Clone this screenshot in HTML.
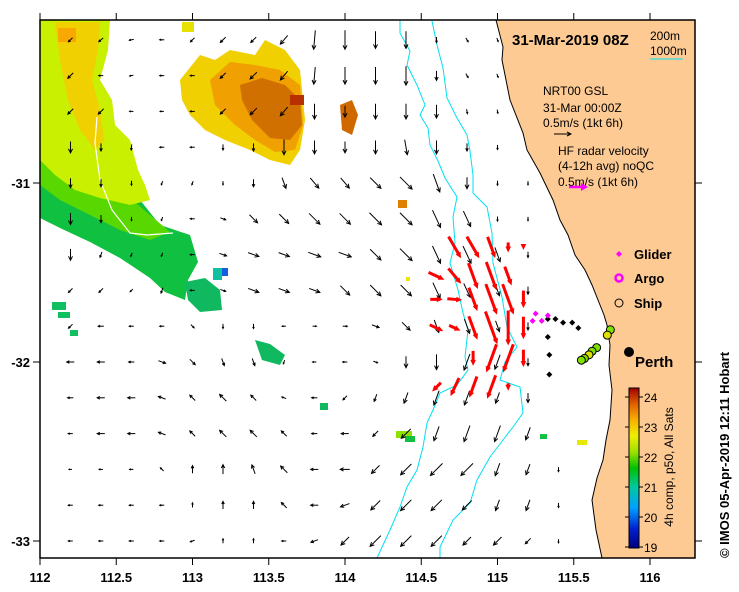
<!DOCTYPE html>
<html><head><meta charset="utf-8">
<style>
body{margin:0;background:#fff;}
svg{display:block;font-family:"Liberation Sans",Arial,sans-serif;}
.tl{font-weight:bold;font-size:13px;}
.sm{font-size:12px;}
</style></head>
<body>
<svg id="map" width="739" height="592" viewBox="0 0 739 592" xmlns="http://www.w3.org/2000/svg">
<defs>
<linearGradient id="cbar" x1="0" y1="1" x2="0" y2="0">
<stop offset="0" stop-color="#000080"/><stop offset="0.12" stop-color="#0020d0"/>
<stop offset="0.25" stop-color="#00a0ff"/><stop offset="0.38" stop-color="#00c8a0"/>
<stop offset="0.5" stop-color="#00c000"/><stop offset="0.6" stop-color="#a0e000"/>
<stop offset="0.7" stop-color="#f0f000"/><stop offset="0.8" stop-color="#f8b000"/>
<stop offset="0.9" stop-color="#e06000"/><stop offset="1" stop-color="#a00000"/>
</linearGradient>
<clipPath id="plotclip"><rect x="40" y="20" width="655" height="538"/></clipPath>
</defs>
<g clip-path="url(#plotclip)">
<g>
<polygon fill="#10c040" points="40,150 60,175 100,200 140,200 160,225 190,235 198,262 188,280 185,300 165,292 150,278 120,258 90,242 60,228 40,218"/>
<polygon fill="#58d800" points="40,130 60,160 95,190 130,198 150,215 170,232 150,240 120,230 90,215 60,200 40,185"/>
<polygon fill="#c8f000" points="40,20 110,20 108,50 100,80 112,100 115,125 130,140 138,170 145,185 150,200 130,205 100,198 75,190 55,175 40,160"/>
<polygon fill="#f0d000" points="55,22 100,22 98,50 92,80 100,110 104,140 95,150 80,130 68,100 60,60"/>
<rect x="58" y="28" width="18" height="14" fill="#f8a800"/>
<rect x="182" y="22" width="12" height="10" fill="#e8e000"/>
<polygon fill="#f0d000" points="180,80 200,55 215,60 230,50 255,55 265,40 285,50 300,70 305,120 300,150 290,165 270,160 250,150 225,140 205,130 190,115 182,100"/>
<polygon fill="#f0a000" points="210,80 230,62 255,65 280,70 300,85 303,125 295,150 275,152 255,140 235,125 215,105"/>
<polygon fill="#d07000" points="240,85 262,78 285,85 300,100 302,125 290,140 270,138 252,120 242,100"/>
<rect x="290" y="95" width="14" height="10" fill="#b83000"/>
<polygon fill="#d06800" points="340,105 352,100 358,115 352,135 342,130"/>
<rect x="398" y="200" width="9" height="8" fill="#e08000"/>
<polygon fill="#10b860" points="185,282 205,278 220,290 222,310 200,312 188,300"/>
<rect x="222" y="268" width="6" height="8" fill="#1060e0"/>
<rect x="213" y="268" width="9" height="12" fill="#10c0a0"/>
<polygon fill="#10b860" points="255,340 270,344 285,355 280,365 262,360"/>
<rect x="52" y="302" width="14" height="8" fill="#10c060"/>
<rect x="58" y="312" width="12" height="6" fill="#10c060"/>
<rect x="70" y="330" width="8" height="6" fill="#10c060"/>
<rect x="320" y="403" width="8" height="7" fill="#10b860"/>
<rect x="396" y="431" width="16" height="7" fill="#90e000"/>
<rect x="405" y="436" width="10" height="6" fill="#10c040"/>
<rect x="406" y="277" width="4" height="4" fill="#e8e800"/>
<rect x="540" y="434" width="7" height="5" fill="#10c040"/>
<rect x="577" y="440" width="10" height="5" fill="#e8e800"/>
</g>
<polyline fill="none" stroke="#fff" stroke-width="1.2" points="97,117 95,143 100,180 112,210 130,233 147,235 173,233"/>
<polygon fill="#fdca94" stroke="#000" stroke-width="1" points="496,20 503,47 502,60 510,100 523,133 527,150 540,173 553,200 560,220 568,235 575,255 585,270 592,285 598,300 604,315 607,325 610,345 609,365 612,390 610,420 606,440 603,460 597,478 592,500 596,530 602,558 700,558 700,20"/>
<polyline fill="none" stroke="#00e0f0" stroke-width="1" points="400,21 400,33 410,51 407,65 417,85 425,105 420,115 428,128 430,145 438,161 445,178 457,197 453,217 455,243 450,263 458,290 463,313 468,330 465,357 468,370 457,385 440,393 433,410 427,423 423,447 417,470 407,487 400,507 390,530 377,558"/>
<polyline fill="none" stroke="#00e0f0" stroke-width="1" points="432,21 437,45 443,68 447,98 457,118 467,135 470,151 473,175 473,193 487,207 492,233 493,263 502,297 507,327 517,347 505,362 500,380 520,387 523,413 513,427 503,440 490,457 477,480 470,503 453,520 440,547 440,558"/>
<g id="arrows"></g>
<g id="radar"></g>
<g id="tracks"></g>
</g>
<rect x="40" y="20" width="655" height="538" fill="none" stroke="#000" stroke-width="1.5"/>
<g id="axes"></g>
<text x="512" y="45" font-size="15" font-weight="bold">31-Mar-2019 08Z</text>
<text x="650" y="40" class="sm">200m</text>
<text x="650" y="55" class="sm">1000m</text>
<line x1="650" y1="59" x2="683" y2="59" stroke="#00e0f0" stroke-width="1"/>
<text class="sm" x="543" y="95">NRT00 GSL</text>
<text class="sm" x="543" y="112">31-Mar 00:00Z</text>
<text class="sm" x="543" y="127">0.5m/s (1kt 6h)</text>
<g stroke="#000" stroke-width="1"><line x1="554" y1="134" x2="571" y2="134"/><polyline fill="none" points="567,132 571,134 567,136"/></g>
<text class="sm" x="558" y="155">HF radar velocity</text>
<text class="sm" x="558" y="170">(4-12h avg) noQC</text>
<text class="sm" x="558" y="186">0.5m/s (1kt 6h)</text>
<g><line x1="569" y1="187" x2="582" y2="187" stroke="#ff00ff" stroke-width="2.5"/><polygon fill="#ff00ff" points="581,183 588,187 581,191"/></g>
<g><polygon fill="#ff00ff" points="619,251 622,254 619,257 616,254"/><text x="634" y="259" class="tl">Glider</text></g>
<g><circle cx="619" cy="278" r="3.5" fill="none" stroke="#ff00ff" stroke-width="2.5"/><text x="634" y="283" class="tl">Argo</text></g>
<g><circle cx="619" cy="303" r="4" fill="none" stroke="#000" stroke-width="1"/><text x="634" y="308" class="tl">Ship</text></g>
<circle cx="629" cy="352" r="5" fill="#000"/>
<text x="635" y="367" font-size="15" font-weight="bold">Perth</text>
<rect x="629" y="388" width="10" height="160" fill="url(#cbar)" stroke="#000" stroke-width="1"/>
<g id="cbticks"></g>
<text transform="translate(673,467) rotate(-90)" text-anchor="middle" font-size="12">4h comp, p50, All Sats</text>
<text transform="translate(729,455) rotate(-90)" text-anchor="middle" font-size="13" font-weight="bold">© IMOS 05-Apr-2019 12:11 Hobart</text>
</svg>
<script>
const arrowLons=[112.2,112.4,112.6,112.8,113.0,113.2,113.4,113.6,113.8,114.0,114.2,114.4,114.6,114.8,115.0,115.2,115.4];
const arrowLats=[-30.2,-30.4,-30.6,-30.8,-31.0,-31.2,-31.4,-31.6,-31.8,-32.0,-32.2,-32.4,-32.6,-32.8,-33.0];
const arrowDir=[
[225,230,260,270,225,225,225,220,185,180,180,180,180,150,160,null,null],
[225,270,260,270,270,225,225,220,185,180,180,180,180,150,160,null,null],
[225,225,270,270,270,225,225,220,180,180,180,180,180,170,170,null,null],
[180,180,185,270,270,180,180,180,180,180,180,170,180,180,180,null,null],
[180,180,180,200,200,180,180,160,140,140,135,135,160,180,180,180,null],
[180,180,180,200,270,110,135,135,135,135,135,135,155,155,180,180,null],
[180,200,200,200,270,110,110,110,110,110,135,135,155,155,160,180,null],
[225,225,225,200,270,110,110,110,110,135,135,135,155,155,160,180,null],
[225,270,270,270,135,180,180,270,90,90,110,135,160,160,160,180,null],
[270,270,270,110,135,160,160,200,270,270,110,180,180,200,200,180,null],
[270,270,270,290,315,315,315,290,270,225,200,200,200,200,200,180,null],
[270,270,270,290,315,315,315,315,270,270,225,225,200,200,200,200,null],
[270,270,270,315,0,0,340,315,270,270,225,225,225,225,200,200,180],
[270,270,270,270,0,0,0,315,270,250,225,225,225,225,200,200,180],
[270,270,270,270,250,0,0,270,250,225,225,225,225,225,225,225,180]];
const arrowSpd=[
[0.15,0.15,0.12,0.12,0.15,0.2,0.2,0.3,0.5,0.5,0.45,0.45,0.15,0.12,0.1,null,null],
[0.2,0.12,0.1,0.12,0.12,0.2,0.25,0.3,0.45,0.45,0.45,0.5,0.25,0.12,0.1,null,null],
[0.2,0.2,0.1,0.1,0.12,0.2,0.25,0.3,0.4,0.3,0.4,0.4,0.35,0.12,0.1,null,null],
[0.3,0.2,0.15,0.12,0.12,0.15,0.2,0.4,0.35,0.3,0.35,0.4,0.35,0.2,0.12,null,null],
[0.25,0.2,0.12,0.1,0.1,0.1,0.2,0.3,0.35,0.35,0.4,0.45,0.5,0.3,0.12,0.1,null],
[0.3,0.2,0.1,0.1,0.12,0.15,0.3,0.35,0.4,0.4,0.45,0.45,0.5,0.45,0.12,0.1,null],
[0.3,0.15,0.1,0.1,0.12,0.2,0.3,0.3,0.35,0.35,0.4,0.45,0.5,0.5,0.4,0.15,null],
[0.15,0.15,0.1,0.15,0.12,0.15,0.3,0.3,0.3,0.35,0.4,0.4,0.45,0.4,0.3,0.2,null],
[0.15,0.15,0.12,0.12,0.12,0.12,0.12,0.1,0.1,0.12,0.2,0.3,0.35,0.4,0.3,0.2,null],
[0.2,0.2,0.15,0.2,0.2,0.2,0.2,0.1,0.1,0.12,0.12,0.3,0.4,0.45,0.4,0.2,null],
[0.15,0.2,0.2,0.2,0.2,0.25,0.2,0.12,0.15,0.15,0.2,0.3,0.4,0.4,0.3,0.25,null],
[0.12,0.2,0.2,0.2,0.2,0.25,0.25,0.2,0.15,0.2,0.2,0.35,0.4,0.45,0.45,0.35,null],
[0.08,0.1,0.1,0.12,0.2,0.25,0.25,0.25,0.2,0.25,0.3,0.4,0.45,0.45,0.35,0.3,0.12],
[0.12,0.12,0.12,0.12,0.12,0.2,0.2,0.2,0.2,0.25,0.35,0.4,0.4,0.35,0.3,0.3,0.12],
[0.12,0.12,0.12,0.12,0.12,0.12,0.12,0.12,0.2,0.3,0.4,0.4,0.4,0.3,0.3,0.2,0.1]];
const radarLons=[114.6,114.72,114.84,114.96,115.07,115.17];
const radarLats=[-31.36,-31.52,-31.65,-31.81,-31.98,-32.14];
const radarDir=[
[null,150,150,160,180,180],
[115,140,160,160,160,null],
[90,95,160,160,160,180],
[115,115,160,160,180,180],
[null,null,180,200,200,180],
[225,205,200,200,180,null]];
const radarSpd=[
[null,0.5,0.5,0.45,0.2,0.1],
[0.35,0.4,0.55,0.6,0.4,null],
[0.25,0.3,0.5,0.65,0.65,0.35],
[0.3,0.25,0.5,0.7,0.7,0.45],
[null,null,0.3,0.6,0.6,0.35],
[0.25,0.4,0.45,0.5,0.15,null]];
const gliderLons=[115.25,115.33,115.23,115.29];
const gliderLats=[-31.73,-31.74,-31.77,-31.77];
const shipTrackLons=[115.33,115.38,115.43,115.49,115.53,115.33,115.34,115.34];
const shipTrackLats=[-31.76,-31.76,-31.78,-31.78,-31.81,-31.86,-31.96,-32.07];
const shipLons=[115.74,115.72,115.65,115.62,115.60,115.57,115.55];
const shipLats=[-31.82,-31.85,-31.92,-31.94,-31.96,-31.98,-31.99];
const xTicks=[112,112.5,113,113.5,114,114.5,115,115.5,116];
const yTicks=[-31,-32,-33];
const cbTicks=[19,20,21,22,23,24];

const X=lon=>40+152.5*(lon-112);
const Y=lat=>183-179*(lat+31);
const CB=v=>547-30*(v-19);
const PX=38, RPX=50;
const NS='http://www.w3.org/2000/svg';
function mk(tag,attrs,parent){const e=document.createElementNS(NS,tag);for(const k in attrs)e.setAttribute(k,attrs[k]);parent.appendChild(e);return e;}

const ag=document.getElementById('arrows');
arrowLats.forEach((lat,i)=>arrowLons.forEach((lon,j)=>{
 const d=arrowDir[i][j],s=arrowSpd[i][j]; if(d==null||s==null)return;
 const r=d*Math.PI/180,L=s*PX,dx=Math.sin(r)*L,dy=-Math.cos(r)*L;
 const x0=X(lon)-dx/2,y0=Y(lat)-dy/2,x1=x0+dx,y1=y0+dy;
 const g=mk('g',{stroke:'#000','stroke-width':1,fill:'none'},ag);
 
 
 mk('line',{x1:x0,y1:y0,x2:x1,y2:y1},g);
 const h=Math.min(4,L*0.35),ux=dx/L,uy=dy/L;
 mk('polyline',{points:`${x1-ux*h-uy*h*0.5},${y1-uy*h+ux*h*0.5} ${x1},${y1} ${x1-ux*h+uy*h*0.5},${y1-uy*h-ux*h*0.5}`},g);
}));
const rg=document.getElementById('radar');
radarLats.forEach((lat,i)=>radarLons.forEach((lon,j)=>{
 const d=radarDir[i][j],s=radarSpd[i][j]; if(d==null||s==null)return;
 const r=d*Math.PI/180,L=s*RPX,dx=Math.sin(r)*L,dy=-Math.cos(r)*L;
 const x0=X(lon)-dx/2,y0=Y(lat)-dy/2,x1=x0+dx,y1=y0+dy,ux=dx/L,uy=dy/L,h=6;
 const g=mk('g',{},rg);
 
 
 mk('line',{x1:x0,y1:y0,x2:x1-ux*h*0.6,y2:y1-uy*h*0.6,stroke:'#ff0000','stroke-width':3},g);
 mk('polygon',{fill:'#ff0000',points:`${x1},${y1} ${x1-ux*h-uy*2.8},${y1-uy*h+ux*2.8} ${x1-ux*h+uy*2.8},${y1-uy*h-ux*2.8}`},g);
}));
const tg=document.getElementById('tracks');
shipTrackLons.forEach((lon,i)=>{
 const x=X(lon),y=Y(shipTrackLats[i]);
 const p=mk('polygon',{fill:'#000',points:`${x},${y-3} ${x+3},${y} ${x},${y+3} ${x-3},${y}`},tg);
 
 
});
gliderLons.forEach((lon,i)=>{
 const x=X(lon),y=Y(gliderLats[i]);
 const p=mk('polygon',{fill:'#ff00ff',points:`${x},${y-3} ${x+3},${y} ${x},${y+3} ${x-3},${y}`},tg);
 
 
});
shipLons.forEach((lon,i)=>{
 const c=mk('circle',{cx:X(lon),cy:Y(shipLats[i]),r:4,fill:i%3==1?'#e0e000':'#80e000',stroke:'#000','stroke-width':1},tg);
 
 
});
const ax=document.getElementById('axes');
xTicks.forEach(v=>{
 const x=X(v);
 const t1=mk('line',{x1:x,y1:558,x2:x,y2:565,stroke:'#000'},ax);
 
 
 mk('line',{x1:x,y1:13,x2:x,y2:20,stroke:'#000'},ax);
 const t=mk('text',{x:x,y:582,'text-anchor':'middle',class:'tl'},ax);
 t.textContent=v;
 
 
});
yTicks.forEach(v=>{
 const y=Y(v);
 const t1=mk('line',{x1:33,y1:y,x2:40,y2:y,stroke:'#000'},ax);
 
 
 mk('line',{x1:695,y1:y,x2:702,y2:y,stroke:'#000'},ax);
 const t=mk('text',{x:30,y:y+5,'text-anchor':'end',class:'tl'},ax);
 t.textContent=v;
 
 
});
const cg=document.getElementById('cbticks');
cbTicks.forEach(v=>{
 const y=CB(v);
 mk('line',{x1:639,y1:y,x2:643,y2:y,stroke:'#000'},cg);
 mk('line',{x1:625,y1:y,x2:629,y2:y,stroke:'#000'},cg);
 const t=mk('text',{x:644,y:y+5,'font-size':12},cg);
 t.textContent=v;
 
 
});
</script>
</body></html>
